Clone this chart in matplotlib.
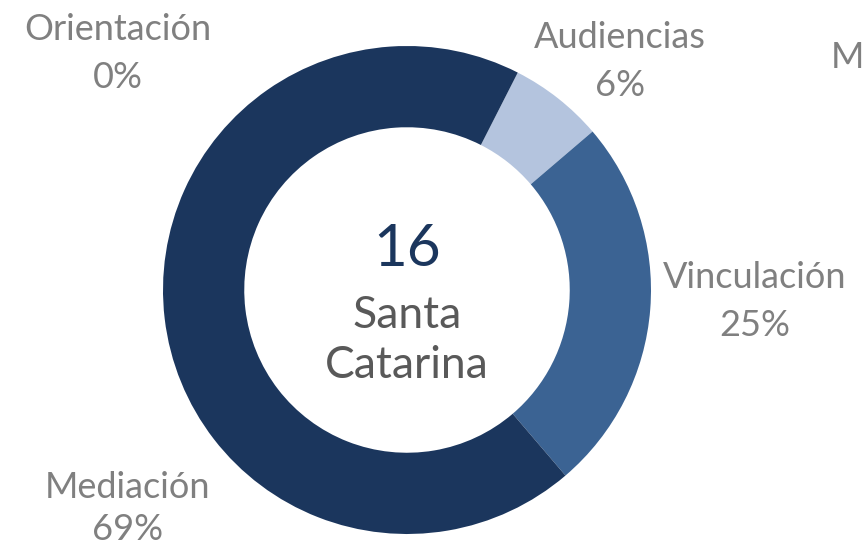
import matplotlib
matplotlib.use("Agg")
import matplotlib.pyplot as plt

categories = ["Orientación", "Audiencias", "Vinculación", "Mediación"]
counts = [0, 1, 4, 11]
percents = ["0%", "6%", "25%", "69%"]
colors = ["#1b365d", "#b4c4de", "#3b6393", "#1b365d"]
total_label = "16"
region_label = "Santa\nCatarina"

W, H = 866, 546
fig = plt.figure(figsize=(W / 100, H / 100), dpi=100)
ax = fig.add_axes([0, 0, 1, 1])

cx, cy, R = 407, H - 290, 244
ax.pie(counts, colors=colors, startangle=63, counterclock=False,
       center=(cx, cy), radius=R, frame=False,
       wedgeprops=dict(width=R * 0.333, edgecolor="none", linewidth=0))
ax.set_xlim(0, W)
ax.set_ylim(0, H)
ax.set_aspect("equal")
ax.axis("off")

font = "Lato"
label_color = "#808080"
label_pos = {
    "Orientación": (118, 30, 77),
    "Audiencias": (620, 37, 85),
    "Vinculación": (755, 278, 325),
    "Mediación": (128, 487, 530),
}
for cat, pct in zip(categories, percents):
    x, y1, y2 = label_pos[cat]
    ax.text(x, H - y1, cat, ha="center", va="center", fontsize=26,
            color=label_color, family=font)
    ax.text(x, H - y2, pct, ha="center", va="center", fontsize=26,
            color=label_color, family=font)

# partly visible label of a neighbouring chart at the right edge
ax.text(864, H - 57, "M", ha="right", va="center", fontsize=26,
        color=label_color, family=font)

ax.text(cx, H - 250, total_label, ha="center", va="center", fontsize=42,
        color="#1b365d", family=font)
lines = region_label.split("\n")
ax.text(cx, H - 315, lines[0], ha="center", va="center", fontsize=32,
        color="#595959", family=font)
ax.text(cx, H - 366, lines[1], ha="center", va="center", fontsize=32,
        color="#595959", family=font)

fig.savefig("out.png", dpi=100)
